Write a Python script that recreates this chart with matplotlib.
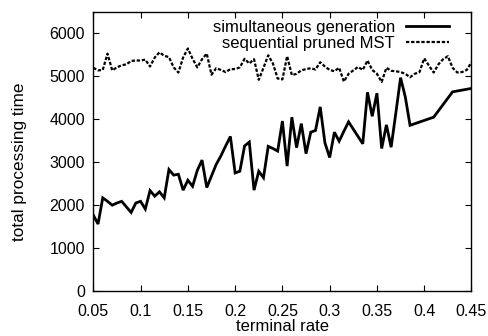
import matplotlib
matplotlib.use("Agg")
import matplotlib.pyplot as plt
import numpy as np

plt.rcParams['font.family'] = ['Liberation Sans', 'DejaVu Sans']

# simultaneous generation (solid)
sim_x = [0.050, 0.055, 0.060, 0.065, 0.070, 0.075, 0.080, 0.085, 0.090, 0.095,
         0.100, 0.105, 0.110, 0.115, 0.120, 0.125, 0.130, 0.135, 0.140, 0.145,
         0.150, 0.155, 0.160, 0.165, 0.170, 0.175, 0.180, 0.185, 0.190, 0.195,
         0.200, 0.205, 0.210, 0.215, 0.220, 0.225, 0.230, 0.235, 0.240, 0.245,
         0.250, 0.255, 0.260, 0.265, 0.270, 0.275, 0.280, 0.285, 0.290, 0.295,
         0.300, 0.305, 0.310, 0.315, 0.320, 0.325, 0.330, 0.335, 0.340, 0.345,
         0.350, 0.355, 0.360, 0.365, 0.370, 0.375, 0.380, 0.385, 0.410, 0.430,
         0.450]
sim_y = [1770, 1560, 2170, 2090, 2000, 2050, 2090, 1960, 1830, 2050,
         2090, 1910, 2340, 2210, 2310, 2170, 2830, 2700, 2720, 2350,
         2580, 2440, 2810, 3050, 2410, 2680, 2950, 3150, 3380, 3600,
         2750, 2790, 3380, 3470, 2350, 2790, 2640, 3370, 3320, 3260,
         3960, 2910, 4050, 3340, 3900, 3200, 3700, 3740, 4290, 3450,
         3110, 3700, 3490, 3720, 3940, 3770, 3600, 3430, 4630, 4070,
         4610, 3320, 3870, 3350, 4150, 4970, 4520, 3860, 4050, 4640,
         4720]

# sequential pruned MST (dashed)
seq_x = [round(0.05 + 0.005 * i, 3) for i in range(81)]
seq_y = [5200, 5140, 5150, 5530, 5140, 5210, 5260, 5280, 5360, 5370,
         5370, 5390, 5230, 5440, 5560, 5480, 5450, 5210, 5090, 5440,
         5650, 5410, 5210, 5400, 5530, 5040, 5190, 5150, 5100, 5170,
         5170, 5210, 5410, 5300, 5400, 4920, 5200, 5490, 5300, 4950,
         4930, 5470, 5030, 5060, 5140, 5170, 5190, 5160, 5330, 5230,
         5150, 5120, 5200, 4880, 5060, 5140, 5220, 5150, 5370, 5150,
         5060, 4870, 5200, 5130, 5120, 5100, 5060, 4980, 5060, 5100,
         5420, 5250, 5090, 5280, 5400, 5470, 5200, 5090, 5100, 5150,
         5330]

x_ticks = [0.05, 0.1, 0.15, 0.2, 0.25, 0.3, 0.35, 0.4, 0.45]
x_tick_labels = ["0.05", "0.1", "0.15", "0.2", "0.25", "0.3", "0.35", "0.4", "0.45"]
y_ticks = [0, 1000, 2000, 3000, 4000, 5000, 6000]

fig = plt.figure(figsize=(4.89, 3.36), dpi=100)
ax = fig.add_axes([0.1908, 0.1339, 0.9642 - 0.1908, 0.9643 - 0.1339])

ax.plot(sim_x, sim_y, color='black', lw=2.0, solid_joinstyle='miter',
        label='simultaneous generation')
ax.plot(seq_x, seq_y, color='black', lw=1.6, linestyle=(0, (1.5, 0.8)),
        label='sequential pruned MST')

ax.set_xlim(0.05, 0.45)
ax.set_ylim(0, 6500)
ax.set_xticks(x_ticks)
ax.set_xticklabels(x_tick_labels)
ax.set_yticks(y_ticks)
ax.tick_params(direction='in', top=True, right=True, length=4, width=0.8,
               labelsize=11.5, colors='black')
ax.tick_params(axis='x', pad=9)
ax.tick_params(axis='y', pad=6)
for s in ax.spines.values():
    s.set_linewidth(1.0)

ax.set_xlabel('terminal rate', fontsize=12)
ax.set_ylabel('total processing time', fontsize=12.4)
ax.xaxis.set_label_coords(0.5, -0.100)
ax.yaxis.set_label_coords(-0.175, 0.462)

leg = ax.legend(loc='upper right', bbox_to_anchor=(0.963, 1.0), frameon=False,
                fontsize=12, handlelength=2.6, handletextpad=0.65,
                borderaxespad=0.3, labelspacing=0.05, markerfirst=False,
                borderpad=0.2)

fig.savefig('out.png', dpi=100)
